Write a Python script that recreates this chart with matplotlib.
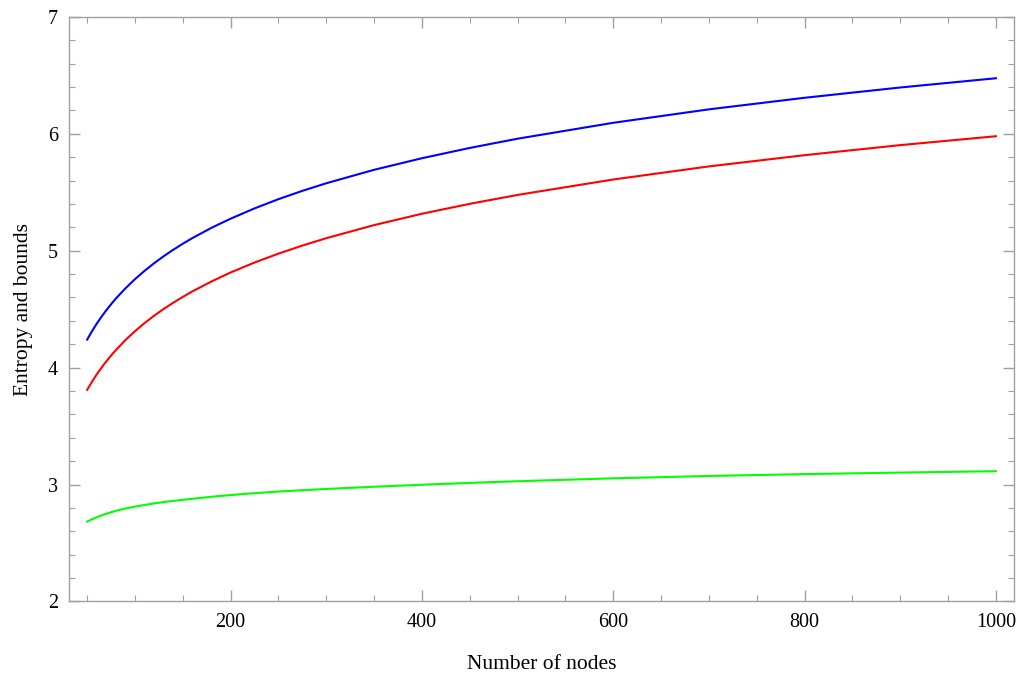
import matplotlib
matplotlib.use("Agg")
import matplotlib.pyplot as plt
from matplotlib.ticker import MultipleLocator

# values
nodes = [50, 55, 60, 65, 70, 75, 80, 90, 100, 110, 120, 130, 140, 150, 160, 180,
         200, 225, 250, 275, 300, 350, 400, 450, 500, 600, 700, 800, 900, 1000]
upper = [4.240, 4.311, 4.376, 4.436, 4.491, 4.542, 4.591, 4.678, 4.757, 4.828,
         4.893, 4.953, 5.008, 5.060, 5.108, 5.196, 5.274, 5.362, 5.441, 5.512,
         5.577, 5.692, 5.791, 5.879, 5.958, 6.094, 6.209, 6.308, 6.396, 6.475]
entropy = [3.810, 3.879, 3.942, 4.000, 4.054, 4.104, 4.150, 4.236, 4.312, 4.381,
           4.444, 4.502, 4.555, 4.605, 4.652, 4.737, 4.814, 4.899, 4.975, 5.044,
           5.107, 5.219, 5.316, 5.401, 5.477, 5.609, 5.721, 5.817, 5.903, 5.979]
lower = [2.683, 2.702, 2.720, 2.736, 2.750, 2.763, 2.775, 2.795, 2.811, 2.825,
         2.838, 2.850, 2.860, 2.869, 2.878, 2.895, 2.910, 2.926, 2.940, 2.951,
         2.962, 2.981, 2.998, 3.014, 3.028, 3.053, 3.073, 3.089, 3.102, 3.114]

plt.rcParams['font.family'] = ['Liberation Serif', 'DejaVu Serif']

fig = plt.figure(figsize=(10.24, 6.75), dpi=100)
ax = fig.add_axes([0.0674, 0.109, 0.9229, 0.866])

ax.plot(nodes, upper, color=(0, 0, 1), lw=1.5)
ax.plot(nodes, entropy, color=(1, 0, 0), lw=1.5)
ax.plot(nodes, lower, color=(0, 1, 0), lw=1.5)

ax.set_xlim(31, 1019)
ax.set_ylim(2, 7)
ax.xaxis.set_major_locator(MultipleLocator(200))
ax.xaxis.set_minor_locator(MultipleLocator(50))
ax.yaxis.set_major_locator(MultipleLocator(1))
ax.yaxis.set_minor_locator(MultipleLocator(0.2))

grey = '#a0a0a0'
for s in ax.spines.values():
    s.set_color(grey)
    s.set_linewidth(1.0)
ax.tick_params(which='both', direction='in', top=True, right=True, color=grey,
               labelsize=14.5, labelcolor='black')
ax.tick_params(which='major', length=8, width=1.0, pad=8)
ax.tick_params(which='minor', length=4.5, width=0.8)

ax.set_xlabel('Number of nodes', fontsize=15.5, labelpad=17)
ax.set_ylabel('Entropy and bounds', fontsize=15.5, labelpad=11)

fig.savefig('out.png', dpi=100)
